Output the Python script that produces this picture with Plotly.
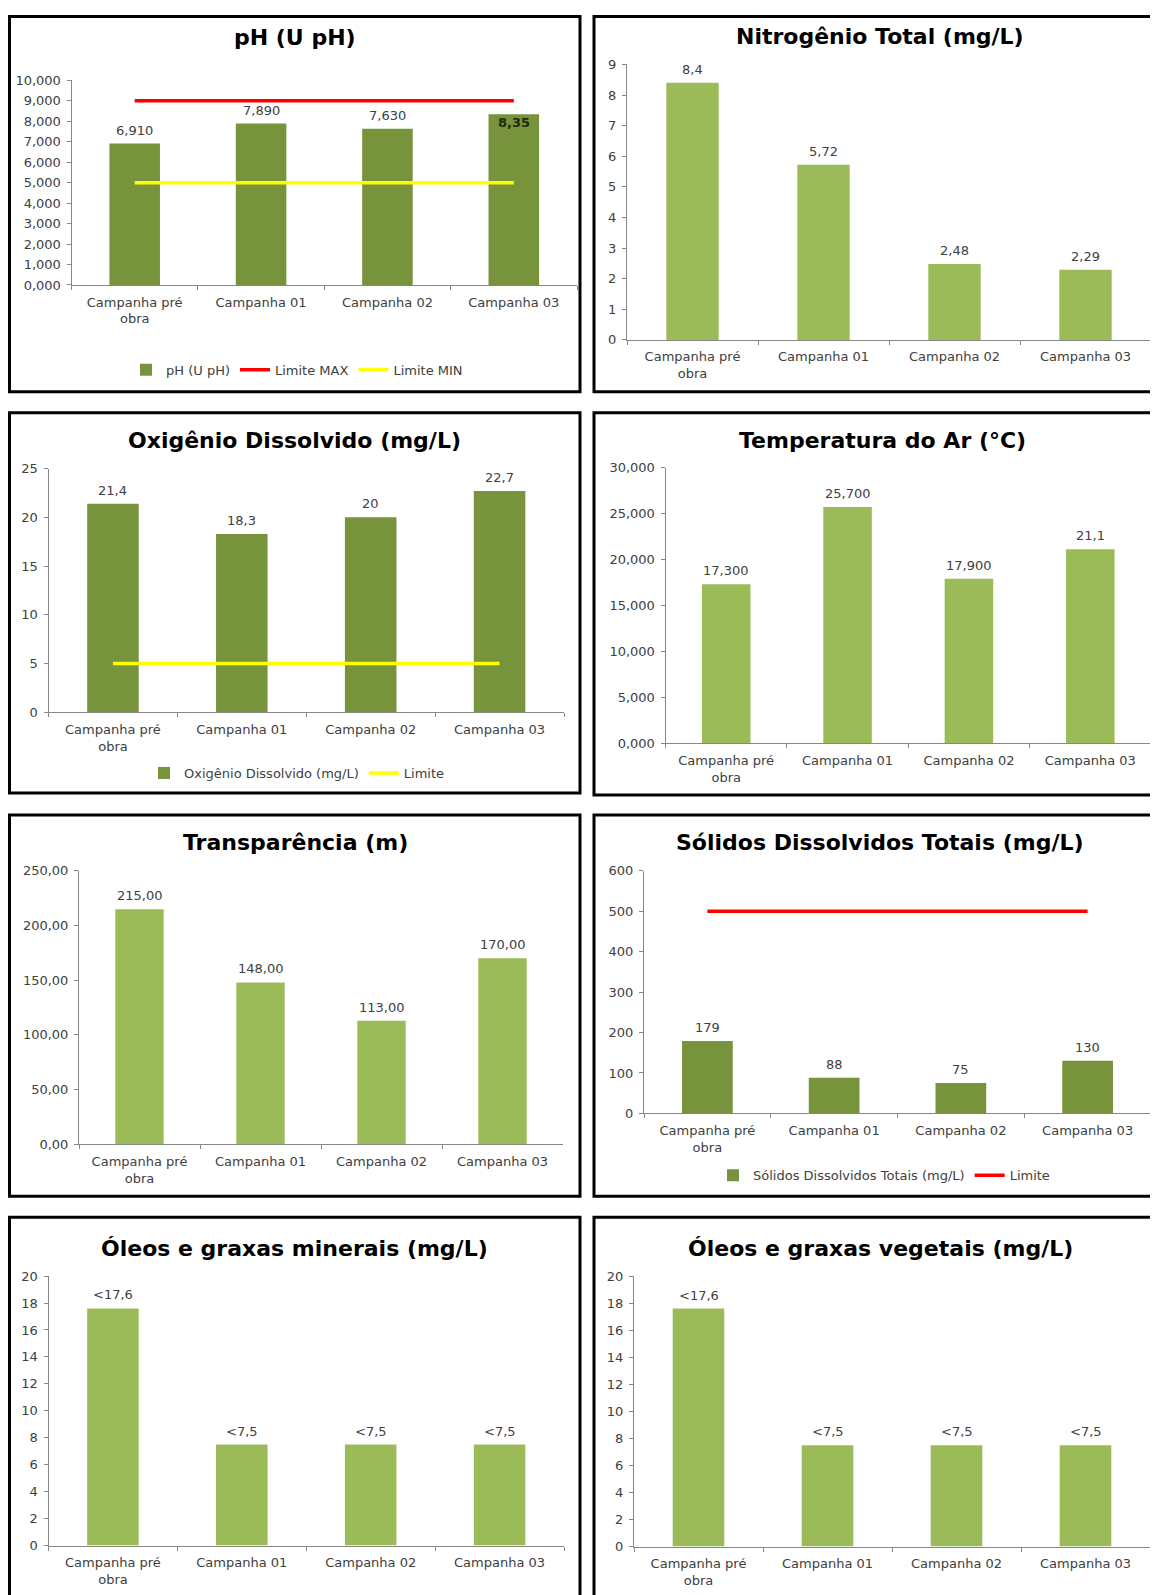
import plotly.graph_objects as go

W, H = 1158, 1595

# ---------------- data ----------------
categorias = ["Campanha pré<br>obra", "Campanha 01", "Campanha 02", "Campanha 03"]

ph_valores = [6.91, 7.89, 7.63, 8.35]
ph_rotulos = ["6,910", "7,890", "7,630", "8,35"]
ph_limite_max = [9, 9, 9, 9]
ph_limite_min = [5, 5, 5, 5]
ph_ticks = [0, 1, 2, 3, 4, 5, 6, 7, 8, 9, 10]

nitrogenio_valores = [8.4, 5.72, 2.48, 2.29]
nitrogenio_rotulos = ["8,4", "5,72", "2,48", "2,29"]
nitrogenio_ticks = [0, 1, 2, 3, 4, 5, 6, 7, 8, 9]

oxigenio_valores = [21.4, 18.3, 20.0, 22.7]
oxigenio_rotulos = ["21,4", "18,3", "20", "22,7"]
oxigenio_limite = [5, 5, 5, 5]
oxigenio_ticks = [0, 5, 10, 15, 20, 25]

temperatura_valores = [17.3, 25.7, 17.9, 21.1]
temperatura_rotulos = ["17,300", "25,700", "17,900", "21,1"]
temperatura_ticks = [0, 5, 10, 15, 20, 25, 30]

transparencia_valores = [215, 148, 113, 170]
transparencia_rotulos = ["215,00", "148,00", "113,00", "170,00"]
transparencia_ticks = [0, 50, 100, 150, 200, 250]

solidos_valores = [179, 88, 75, 130]
solidos_rotulos = ["179", "88", "75", "130"]
solidos_limite = [500, 500, 500, 500]
solidos_ticks = [0, 100, 200, 300, 400, 500, 600]

oleos_min_valores = [17.6, 7.5, 7.5, 7.5]
oleos_min_rotulos = ["<17,6", "<7,5", "<7,5", "<7,5"]
oleos_veg_valores = [17.6, 7.5, 7.5, 7.5]
oleos_veg_rotulos = ["<17,6", "<7,5", "<7,5", "<7,5"]
oleos_ticks = [0, 2, 4, 6, 8, 10, 12, 14, 16, 18, 20]

# ---------------- styles ----------------
FONT = "DejaVu Sans"
DARK = "#77933C"
LIGHT = "#9BBB59"
AXIS = "#868686"
TXT = "#404040"
RED = "#FF0000"
YELLOW = "#FFFF00"


def fx(x):
    # page pixel -> figure pixel (horizontal)
    return x - 8


def fy(y):
    # page pixel -> figure pixel (vertical)
    return (y - 13.5) / 0.9925


panels = [
    dict(title="pH (U pH)", vals=ph_valores, lab=ph_rotulos, ticks=ph_ticks, fmt=".3f",
         color=DARK, px=(71.5, 577), py=(79, 284), tx=295, ty=36, box=(7, 7, 580, 391),
         bar_name="pH (U pH)", legend="legend",
         lines=[("Limite MAX", ph_limite_max, RED), ("Limite MIN", ph_limite_min, YELLOW)],
         inside=[False, False, False, True]),
    dict(title="Nitrogênio Total (mg/L)", vals=nitrogenio_valores, lab=nitrogenio_rotulos,
         ticks=nitrogenio_ticks, fmt="d", color=LIGHT, px=(627, 1151), py=(63, 339),
         tx=880, ty=35, box=(594, 7, 1175, 391)),
    dict(title="Oxigênio Dissolvido (mg/L)", vals=oxigenio_valores, lab=oxigenio_rotulos,
         ticks=oxigenio_ticks, fmt="d", color=DARK, px=(48.5, 564), py=(468, 712),
         tx=294, ty=440, box=(7, 412, 580, 793),
         bar_name="Oxigênio Dissolvido (mg/L)", legend="legend2",
         lines=[("Limite", oxigenio_limite, YELLOW)]),
    dict(title="Temperatura do Ar (°C)", vals=temperatura_valores, lab=temperatura_rotulos,
         ticks=temperatura_ticks, fmt=".3f", color=LIGHT, px=(665.5, 1151), py=(467, 743),
         tx=882, ty=440, box=(594, 412, 1175, 795)),
    dict(title="Transparência (m)", vals=transparencia_valores, lab=transparencia_rotulos,
         ticks=transparencia_ticks, fmt=".2f", color=LIGHT, px=(79, 563), py=(871, 1145),
         tx=295, ty=843, box=(7, 815, 580, 1197)),
    dict(title="Sólidos Dissolvidos Totais (mg/L)", vals=solidos_valores, lab=solidos_rotulos,
         ticks=solidos_ticks, fmt="d", color=DARK, px=(644, 1151), py=(871, 1114),
         tx=880, ty=843, box=(594, 815, 1175, 1197),
         bar_name="Sólidos Dissolvidos Totais (mg/L)", legend="legend3",
         lines=[("Limite", solidos_limite, RED)]),
    dict(title="Óleos e graxas minerais (mg/L)", vals=oleos_min_valores, lab=oleos_min_rotulos,
         ticks=oleos_ticks, fmt="d", color=LIGHT, px=(48.5, 564), py=(1277, 1547),
         tx=294, ty=1249, box=(7, 1218, 580, 1620)),
    dict(title="Óleos e graxas vegetais (mg/L)", vals=oleos_veg_valores, lab=oleos_veg_rotulos,
         ticks=oleos_ticks, fmt="d", color=LIGHT, px=(634, 1150), py=(1277, 1548),
         tx=880, ty=1249, box=(594, 1218, 1175, 1620)),
]

legend_pos = {"legend": (297, 369), "legend2": (297, 773), "legend3": (884, 1176)}

fig = go.Figure()
layout = dict(width=W, height=H, margin=dict(l=0, r=0, t=0, b=0),
              paper_bgcolor="white", plot_bgcolor="white", separators=",.",
              font=dict(family=FONT, size=13, color=TXT), barmode="overlay",
              annotations=[], shapes=[])

for i, p in enumerate(panels, start=1):
    xa = "x" if i == 1 else f"x{i}"
    ya = "y" if i == 1 else f"y{i}"
    has_leg = "legend" in p
    inside = p.get("inside", [False] * 4)
    fig.add_trace(go.Bar(
        x=categorias, y=p["vals"], xaxis=xa, yaxis=ya,
        marker=dict(color=p["color"], line=dict(width=0)), width=0.4,
        hoverinfo="skip", cliponaxis=False,
        name=p.get("bar_name", p["title"]), showlegend=has_leg,
        legend=p.get("legend", "legend")))
    for nm, vals, col in p.get("lines", []):
        fig.add_trace(go.Scatter(
            x=categorias, y=vals, mode="lines", xaxis=xa, yaxis=ya,
            line=dict(color=col, width=3.5), name=nm, showlegend=True,
            legend=p["legend"], hoverinfo="skip"))

    # data labels, positioned through the axes' own scales
    for cat, val, lab, ins in zip(categorias, p["vals"], p["lab"], inside):
        if ins:
            layout["annotations"].append(dict(
                x=cat, y=val, xref=xa, yref=ya, text=f"<b>{lab}</b>", showarrow=False,
                xanchor="center", yanchor="top", yshift=1,
                font=dict(family=FONT, size=13, color="#1E2B0C")))
        else:
            layout["annotations"].append(dict(
                x=cat, y=val, xref=xa, yref=ya, text=lab, showarrow=False,
                xanchor="center", yanchor="bottom", yshift=4,
                font=dict(family=FONT, size=13, color=TXT)))

    x0, x1 = fx(p["px"][0]), fx(p["px"][1])
    yt, yb = fy(p["py"][0]), fy(p["py"][1])
    top = p["ticks"][-1]
    if p["fmt"] == "d":
        ttext = [str(t) for t in p["ticks"]]
    else:
        nd = int(p["fmt"][1])
        ttext = [f"{t:.{nd}f}".replace(".", ",") for t in p["ticks"]]
    layout["xaxis" if i == 1 else f"xaxis{i}"] = dict(
        domain=[x0 / W, x1 / W], anchor=ya, type="category", range=[-0.5, 3.5],
        showline=True, linecolor=AXIS, linewidth=1, ticks="outside", ticklen=4,
        tickcolor=AXIS, tickson="boundaries", showgrid=False, zeroline=False,
        ticklabelstandoff=5,
        tickfont=dict(family=FONT, size=13, color=TXT), fixedrange=True)
    layout["yaxis" if i == 1 else f"yaxis{i}"] = dict(
        domain=[1 - yb / H, 1 - yt / H], anchor=xa, range=[0, top],
        tickvals=p["ticks"], ticktext=ttext,
        showline=True, linecolor=AXIS, linewidth=1, ticks="outside", ticklen=4,
        tickcolor=AXIS, showgrid=False, zeroline=False, ticklabelstandoff=3,
        tickfont=dict(family=FONT, size=13, color=TXT), fixedrange=True)

    layout["annotations"].append(dict(
        text=f"<b>{p['title']}</b>", x=fx(p["tx"]) / W, y=1 - fy(p["ty"]) / H,
        xref="paper", yref="paper", xanchor="center", yanchor="middle",
        showarrow=False, font=dict(family=FONT, size=22, color="black")))
    bx0, by0, bx1, by1 = p["box"]
    X0 = max(fx(bx0), 1.5)
    Y0 = max(fy(by0), 1.5)
    layout["shapes"].append(dict(
        type="rect", xref="paper", yref="paper", x0=X0 / W, x1=fx(bx1) / W,
        y0=1 - fy(by1) / H, y1=1 - Y0 / H, line=dict(color="black", width=3),
        fillcolor="rgba(0,0,0,0)", layer="above"))

for key, (lx, ly) in legend_pos.items():
    layout[key] = dict(orientation="h", x=fx(lx) / W, y=1 - fy(ly) / H, xanchor="center",
                       yanchor="middle", bgcolor="rgba(0,0,0,0)", itemwidth=30,
                       font=dict(family=FONT, size=13, color=TXT),
                       tracegroupgap=0, itemclick=False, itemdoubleclick=False)

fig.update_layout(**layout)
fig.write_html("out.html")
